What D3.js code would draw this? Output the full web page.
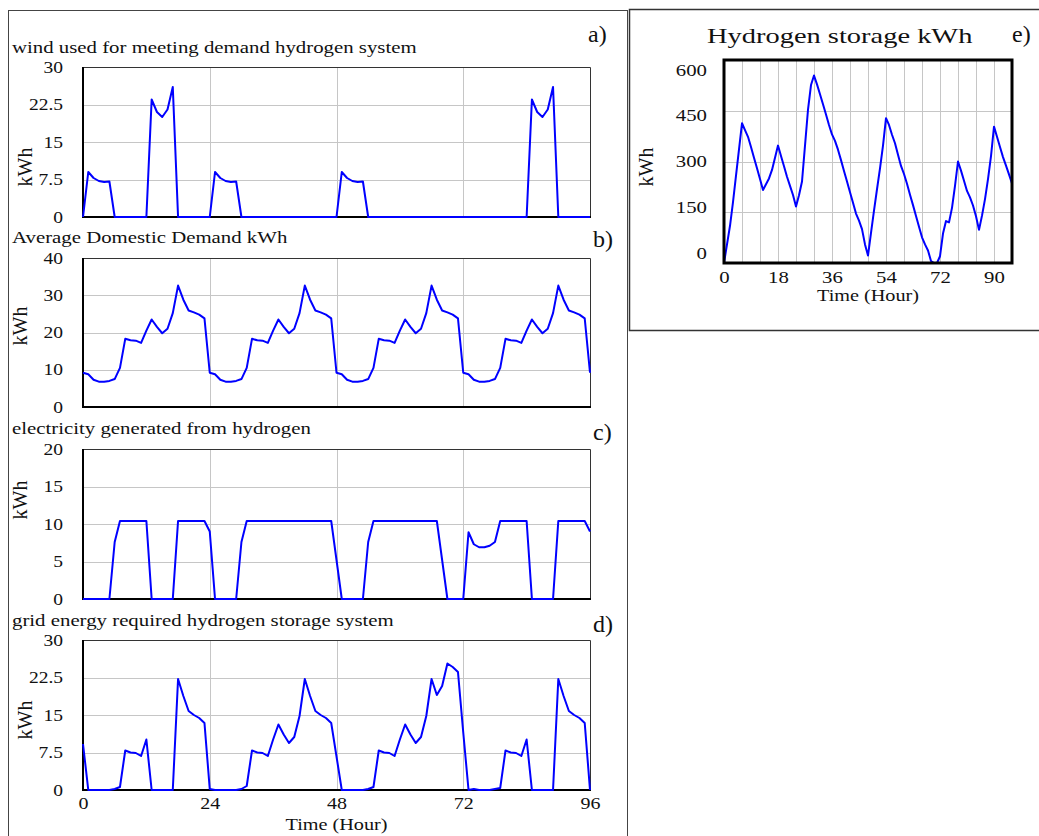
<!DOCTYPE html>
<html>
<head>
<meta charset="utf-8">
<script src="https://cdn.jsdelivr.net/npm/d3@7"></script>
<style>
  html, body { margin: 0; padding: 0; background: #fff; }
  svg { display: block; }
  text { font-family: "Liberation Serif", "Times New Roman", serif; fill: #111; }
</style>
</head>
<body>
<svg id="chart" width="1039" height="836"></svg>
<script>
// Simulation hours 0..96
const hours = d3.range(0, 97);

// a) wind used for meeting demand, hydrogen system (kWh)
const windUsed = [
  0, 9, 7.8, 7.2, 7.0, 7.1, 0, 0, 0, 0, 0, 0, 0, 23.5, 21, 20, 21.5, 26, 0, 0, 0, 0, 0, 0,
  0, 9, 7.8, 7.2, 7.0, 7.1, 0, 0, 0, 0, 0, 0, 0, 0, 0, 0, 0, 0, 0, 0, 0, 0, 0, 0,
  0, 9, 7.8, 7.2, 7.0, 7.1, 0, 0, 0, 0, 0, 0, 0, 0, 0, 0, 0, 0, 0, 0, 0, 0, 0, 0,
  0, 0, 0, 0, 0, 0, 0, 0, 0, 0, 0, 0, 0, 23.5, 21, 20, 21.5, 26, 0, 0, 0, 0, 0, 0,
  0
];

// b) average domestic demand (kWh)
const domesticDemand = [
  9.2, 8.8, 7.3, 6.8, 6.8, 7.0, 7.5, 10.5, 18.3, 17.9, 17.8, 17.2, 20.5, 23.5, 21.5, 19.8, 21.0, 25.2, 32.6, 28.8, 25.9, 25.4, 24.8, 23.8,
  9.2, 8.8, 7.3, 6.8, 6.8, 7.0, 7.5, 10.5, 18.3, 17.9, 17.8, 17.2, 20.5, 23.5, 21.5, 19.8, 21.0, 25.2, 32.6, 28.8, 25.9, 25.4, 24.8, 23.8,
  9.2, 8.8, 7.3, 6.8, 6.8, 7.0, 7.5, 10.5, 18.3, 17.9, 17.8, 17.2, 20.5, 23.5, 21.5, 19.8, 21.0, 25.2, 32.6, 28.8, 25.9, 25.4, 24.8, 23.8,
  9.2, 8.8, 7.3, 6.8, 6.8, 7.0, 7.5, 10.5, 18.3, 17.9, 17.8, 17.2, 20.5, 23.5, 21.5, 19.8, 21.0, 25.2, 32.6, 28.8, 25.9, 25.4, 24.8, 23.8,
  9.2
];

// c) electricity generated from hydrogen (kWh)
const hydrogenElectricity = [
  0, 0, 0, 0, 0, 0, 7.6, 10.4, 10.4, 10.4, 10.4, 10.4, 10.4, 0, 0, 0, 0, 0, 10.4, 10.4, 10.4, 10.4, 10.4, 10.4,
  9.0, 0, 0, 0, 0, 0, 7.6, 10.4, 10.4, 10.4, 10.4, 10.4, 10.4, 10.4, 10.4, 10.4, 10.4, 10.4, 10.4, 10.4, 10.4, 10.4, 10.4, 10.4,
  5.2, 0, 0, 0, 0, 0, 7.6, 10.4, 10.4, 10.4, 10.4, 10.4, 10.4, 10.4, 10.4, 10.4, 10.4, 10.4, 10.4, 10.4, 5.2, 0, 0, 0,
  0, 8.9, 7.3, 6.9, 6.9, 7.1, 7.6, 10.4, 10.4, 10.4, 10.4, 10.4, 10.4, 0, 0, 0, 0, 0, 10.4, 10.4, 10.4, 10.4, 10.4, 10.4,
  9.0
];

// d) grid energy required, hydrogen storage system (kWh)
const gridEnergy = [
  9.2, 0, 0, 0, 0, 0, 0.2, 0.6, 7.9, 7.5, 7.4, 6.8, 10.1, 0, 0, 0, 0, 0, 22.2, 18.8, 15.8, 15.0, 14.4, 13.4,
  0.2, 0, 0, 0, 0, 0, 0.2, 0.8, 7.9, 7.5, 7.4, 6.8, 10.1, 13.1, 11.1, 9.4, 10.6, 14.8, 22.2, 18.8, 15.8, 15.0, 14.4, 13.4,
  6.7, 0, 0, 0, 0, 0, 0.2, 0.6, 7.9, 7.5, 7.4, 6.8, 10.1, 13.1, 11.1, 9.4, 10.6, 14.8, 22.2, 19.0, 20.8, 25.3, 24.6, 23.6,
  11.5, 0, 0.2, 0, 0, 0, 0.2, 0.4, 7.9, 7.5, 7.4, 6.8, 10.1, 0, 0, 0, 0, 0, 22.2, 18.8, 15.8, 15.0, 14.4, 13.4,
  0
];

// e) hydrogen storage level (kWh)
const hydrogenStorage = [
  0, 55, 110, 180, 258, 336, 413, 393, 373, 343, 311, 280, 248, 216, 233, 250, 275, 311, 347, 316, 286, 255, 228, 201,
  167, 200, 241, 347, 453, 526, 554, 528, 499, 469, 439, 408, 380, 361, 335, 304, 272, 241, 209, 178, 146, 125, 100, 55,
  22, 89, 155, 218, 280, 347, 428, 408, 379, 354, 320, 287, 263, 234, 202, 171, 139, 107, 76, 55, 37, 6, 0, 0,
  20, 87, 124, 120, 163, 228, 300, 273, 243, 213, 194, 170, 138, 98, 140, 189, 248, 316, 403, 373, 343, 313, 288, 262,
  235
];

// Axis tick values
const ticksThirty = [0, 7.5, 15, 22.5, 30];
const ticksForty = [0, 10, 20, 30, 40];
const ticksTwenty = [0, 5, 10, 15, 20];
const dayTicks = [0, 24, 48, 72, 96];
const storageTicks = [0, 150, 300, 450, 600];
const storageHourTicks = [0, 18, 36, 54, 72, 90];
const storageGridHours = [6, 12, 18, 24, 30, 36, 42, 48, 54, 60, 66, 72, 78, 84, 90];

// Titles
const panelTitles = [
  "wind used for meeting demand hydrogen system",
  "Average Domestic Demand kWh",
  "electricity generated from hydrogen",
  "grid energy required hydrogen storage system"
];
const storageTitle = "Hydrogen storage kWh";
const unitLabel = "kWh";
const timeLabel = "Time (Hour)";

const svg = d3.select("#chart");
const LINE = "#0000ff";
const GRID = "#c6c6c6";

// Text helper: horizontally stretched serif text
function addText(parent, o) {
  return parent.append("text")
    .attr("transform", `translate(${o.x},${o.y})` + (o.rotate ? ` rotate(${o.rotate})` : "") + ` scale(${o.sx || 1},1)`)
    .attr("text-anchor", o.anchor || "start")
    .attr("font-size", o.size)
    .text(o.text);
}

// Outer frames
svg.append("rect").attr("x", 8.5).attr("y", 10.5).attr("width", 619).attr("height", 840)
  .attr("fill", "none").attr("stroke", "#444").attr("stroke-width", 1);
svg.append("rect").attr("x", 629.5).attr("y", 9.5).attr("width", 420).attr("height", 321)
  .attr("fill", "none").attr("stroke", "#333").attr("stroke-width", 1.5);

// ---- Panels a) to d) ----
const X0 = 83, X1 = 590;
const x = d3.scaleLinear().domain([0, 96]).range([X0, X1]);

const panels = [
  { title: panelTitles[0], letter: "a)", values: windUsed, ticks: ticksThirty, top: 67, bottom: 217,
    titleY: 53, letterX: 588, letterY: 42, unitX: 31.5, unitY: 167 },
  { title: panelTitles[1], letter: "b)", values: domesticDemand, ticks: ticksForty, top: 258, bottom: 407,
    titleY: 242.5, letterX: 593, letterY: 247, unitX: 27, unitY: 326 },
  { title: panelTitles[2], letter: "c)", values: hydrogenElectricity, ticks: ticksTwenty, top: 449, bottom: 599,
    titleY: 433.5, letterX: 593, letterY: 440, unitX: 27, unitY: 500 },
  { title: panelTitles[3], letter: "d)", values: gridEnergy, ticks: ticksThirty, top: 640, bottom: 790,
    titleY: 626, letterX: 593, letterY: 632, unitX: 32, unitY: 720 }
];

panels.forEach((p, idx) => {
  const g = svg.append("g");
  const yMax = d3.max(p.ticks);
  const y = d3.scaleLinear().domain([0, yMax]).range([p.bottom, p.top]);

  // grid
  g.append("g").selectAll("line.h").data(p.ticks.slice(1, -1)).join("line")
    .attr("x1", X0).attr("x2", X1)
    .attr("y1", d => Math.round(y(d)) + 0.5).attr("y2", d => Math.round(y(d)) + 0.5)
    .attr("stroke", GRID).attr("stroke-width", 1);
  g.append("g").selectAll("line.v").data(dayTicks.slice(1, -1)).join("line")
    .attr("x1", d => Math.round(x(d)) + 0.5).attr("x2", d => Math.round(x(d)) + 0.5)
    .attr("y1", p.top).attr("y2", p.bottom)
    .attr("stroke", GRID).attr("stroke-width", 1);

  // frame: thin top/right, heavy left/bottom
  g.append("path")
    .attr("d", `M${X0},${p.top + 0.5}H${X1 + 0.5}V${p.bottom}`)
    .attr("fill", "none").attr("stroke", "#333").attr("stroke-width", 1);
  g.append("path")
    .attr("d", `M${X0},${p.top}V${p.bottom}H${X1 + 1}`)
    .attr("fill", "none").attr("stroke", "#000").attr("stroke-width", 2);

  // y axis labels
  const sx = 1.22;
  g.append("g").attr("transform", `translate(${X0},0)`)
    .call(d3.axisLeft(y).tickValues(p.ticks).tickSize(0).tickPadding(0).tickFormat(d3.format("~g")))
    .call(a => a.select(".domain").remove())
    .attr("font-family", null).attr("font-size", 16)
    .selectAll("text")
    .attr("x", -20 / sx)
    .attr("transform", `scale(${sx},1)`)
    .attr("fill", "#111");

  // series line
  g.append("path")
    .datum(p.values)
    .attr("fill", "none").attr("stroke", LINE).attr("stroke-width", 2)
    .attr("stroke-linejoin", "round")
    .attr("d", d3.line().x((d, i) => x(hours[i])).y(d => y(d)));

  // texts
  addText(g, { x: 12, y: p.titleY, text: p.title, size: 17, sx: 1.225 });
  addText(g, { x: p.letterX, y: p.letterY, text: p.letter, size: 24 });
  addText(g, { x: p.unitX, y: p.unitY, text: unitLabel, size: 20, rotate: -90, anchor: "middle" });

  // x axis on the last panel
  if (idx === panels.length - 1) {
    const sxx = 1.25;
    g.append("g").attr("transform", `translate(0,${p.bottom})`)
      .call(d3.axisBottom(x).tickValues(dayTicks).tickSize(0).tickPadding(0).tickFormat(d3.format("d")))
      .call(a => a.select(".domain").remove())
      .attr("font-family", null).attr("font-size", 16)
      .selectAll("text")
      .attr("y", 7.5).attr("transform", `scale(${sxx},1)`).attr("fill", "#111");
    addText(g, { x: (X0 + X1) / 2, y: 830, text: timeLabel, size: 17, sx: 1.19, anchor: "middle" });
  }
});

// ---- Panel e) hydrogen storage ----
const EX0 = 724, EX1 = 1012, ETOP = 60, EBOT = 263;
const xe = d3.scaleLinear().domain([0, 96]).range([EX0, EX1]);
const ye = d3.scaleLinear().domain([0, 600]).range([EBOT, ETOP]);
// tick-label placement for the storage axis
const yeLabel = d3.scaleLinear().domain([0, 600]).range([253, 70]);

const ge = svg.append("g");
ge.append("g").selectAll("line").data(storageGridHours).join("line")
  .attr("x1", d => Math.round(xe(d)) + 0.5).attr("x2", d => Math.round(xe(d)) + 0.5)
  .attr("y1", ETOP).attr("y2", EBOT)
  .attr("stroke", GRID).attr("stroke-width", 1);
ge.append("g").selectAll("line").data(storageTicks.slice(1, -1)).join("line")
  .attr("x1", EX0).attr("x2", EX1)
  .attr("y1", d => Math.round(ye(d)) + 0.5).attr("y2", d => Math.round(ye(d)) + 0.5)
  .attr("stroke", GRID).attr("stroke-width", 1);

ge.append("path")
  .datum(hydrogenStorage)
  .attr("fill", "none").attr("stroke", LINE).attr("stroke-width", 2)
  .attr("stroke-linejoin", "round")
  .attr("d", d3.line().x((d, i) => xe(hours[i])).y(d => ye(d)));

ge.append("rect").attr("x", EX0).attr("y", ETOP).attr("width", EX1 - EX0).attr("height", EBOT - ETOP)
  .attr("fill", "none").attr("stroke", "#000").attr("stroke-width", 3);

const sxe = 1.3;
ge.append("g").attr("transform", `translate(${EX0},0)`)
  .call(d3.axisLeft(yeLabel).tickValues(storageTicks).tickSize(0).tickPadding(0).tickFormat(d3.format("d")))
  .call(a => a.select(".domain").remove())
  .attr("font-family", null).attr("font-size", 16)
  .selectAll("text")
  .attr("x", -17 / sxe).attr("transform", `scale(${sxe},1)`).attr("fill", "#111");

ge.append("g").attr("transform", `translate(0,${EBOT})`)
  .call(d3.axisBottom(xe).tickValues(storageHourTicks).tickSize(0).tickPadding(0).tickFormat(d3.format("d")))
  .call(a => a.select(".domain").remove())
  .attr("font-family", null).attr("font-size", 16)
  .selectAll("text")
  .attr("y", 8.5).attr("transform", `scale(${sxe},1)`).attr("fill", "#111");

addText(ge, { x: 707, y: 43, text: storageTitle, size: 21, sx: 1.355 });
addText(ge, { x: 1012, y: 42, text: "e)", size: 24 });
addText(ge, { x: 653, y: 167, text: unitLabel, size: 20, rotate: -90, anchor: "middle" });
addText(ge, { x: (EX0 + EX1) / 2, y: 301, text: timeLabel, size: 17, sx: 1.19, anchor: "middle" });
</script>
</body>
</html>
